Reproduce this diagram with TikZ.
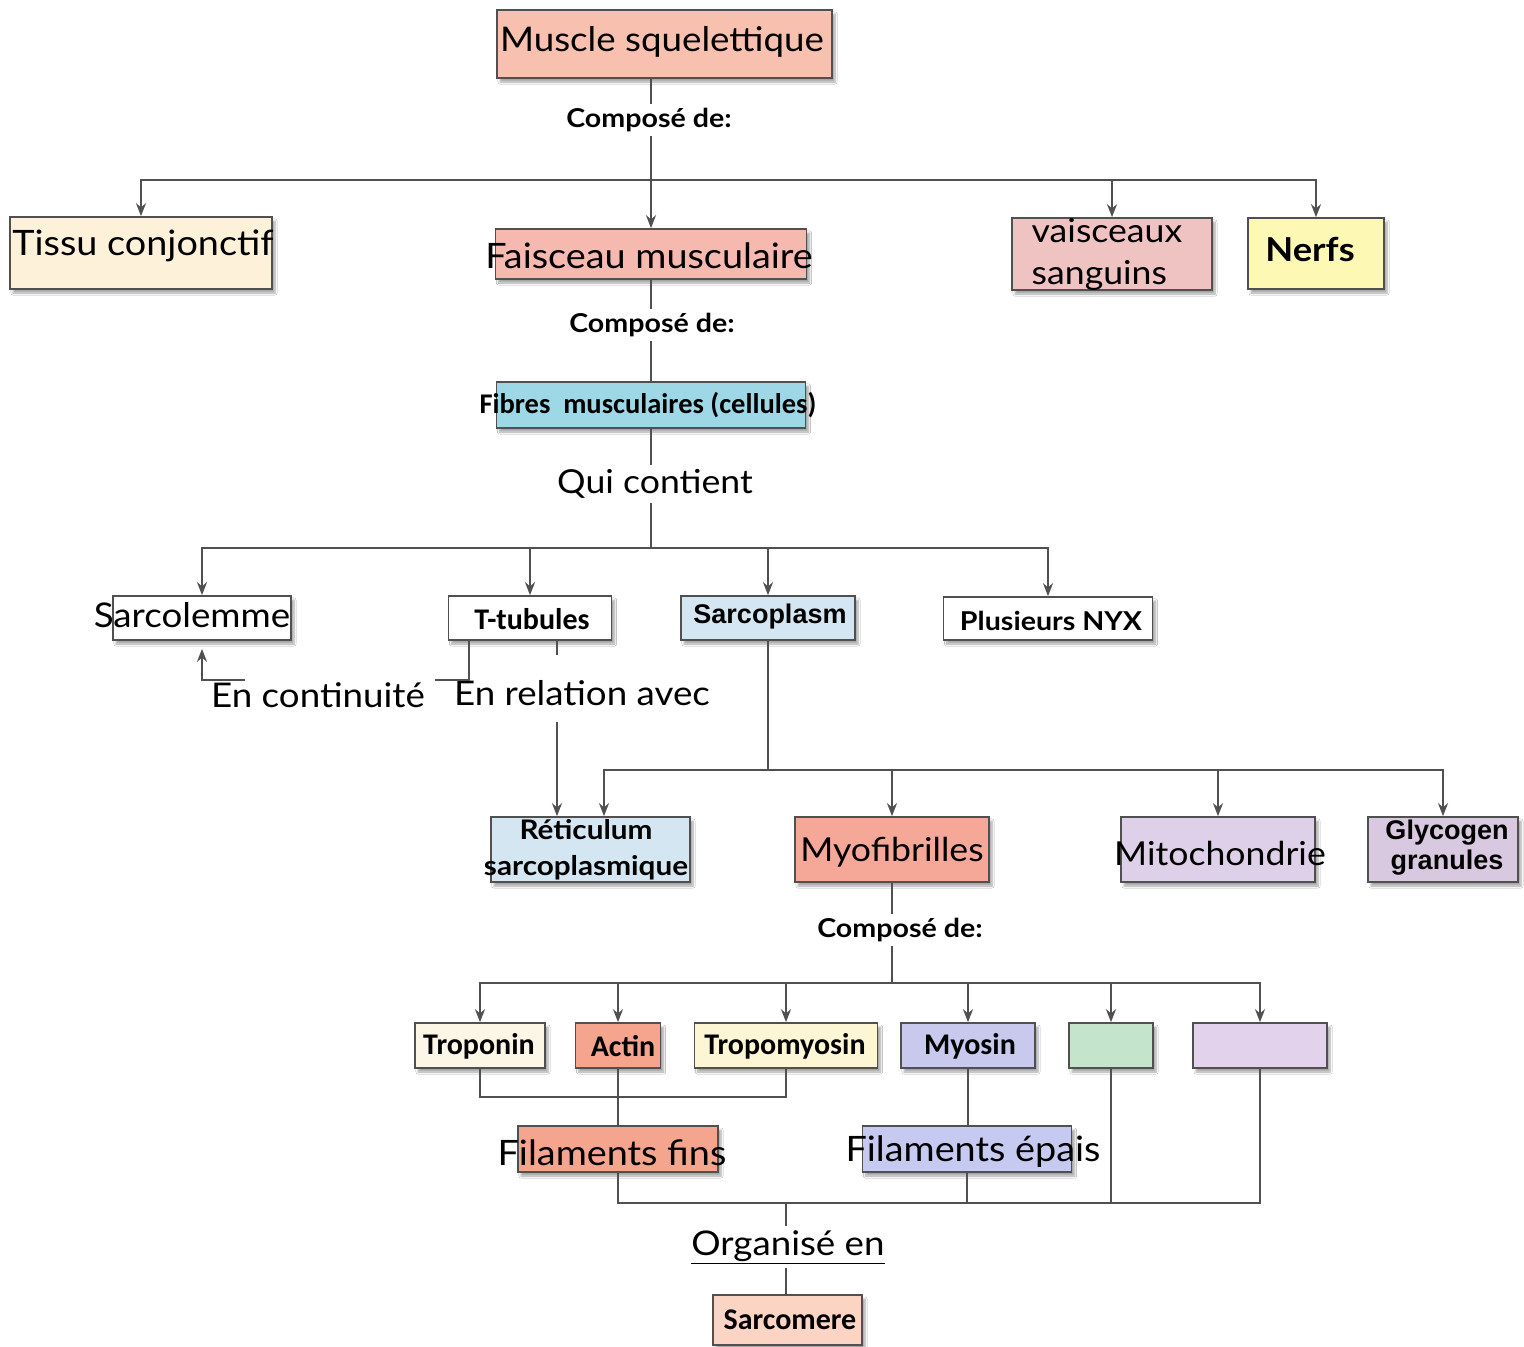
\documentclass[tikz,border=0pt]{standalone}
\usepackage{fontspec}
\setmainfont{Lato}
\newfontfamily\handf[FakeStretch=1.08]{Lato}
\newfontfamily\handbf[FakeStretch=1.1]{Lato}
\newfontfamily\condf{Carlito}
\newfontfamily\arialf{Liberation Sans}
\usetikzlibrary{arrows.meta,shadows.blur}
\definecolor{lineC}{HTML}{505050}
\definecolor{cMuscle}{HTML}{F8C0AF}
\definecolor{cFaisc}{HTML}{F5B9AF}
\definecolor{cTissu}{HTML}{FDF1DA}
\definecolor{cVaisc}{HTML}{F0C3C3}
\definecolor{cNerfs}{HTML}{FDF9B5}
\definecolor{cFibres}{HTML}{9ED8E6}
\definecolor{cSarcop}{HTML}{D4E6F2}
\definecolor{cMyof}{HTML}{F6A898}
\definecolor{cMito}{HTML}{DDD0E8}
\definecolor{cGlyc}{HTML}{D9C9E0}
\definecolor{cTropo}{HTML}{FCF6E6}
\definecolor{cActin}{HTML}{F5A48E}
\definecolor{cTmyo}{HTML}{FDF6D4}
\definecolor{cMyosin}{HTML}{C9C9EE}
\definecolor{cGreen}{HTML}{C4E5CB}
\definecolor{cLav}{HTML}{E2D2EC}
\definecolor{cEpais}{HTML}{C6CAF0}
\definecolor{cSarcom}{HTML}{FBD4C4}
\begin{document}
\begin{tikzpicture}[x=1pt,y=-1pt,
  box/.style={draw=lineC, line width=1.7pt, inner sep=0pt,
    blur shadow={shadow xshift=3pt, shadow yshift=-4pt, shadow blur steps=6, shadow opacity=35}},
  lbl/.style={inner sep=0pt, text=black},
  hand/.style={font=\fontsize{35}{40}\selectfont\handf},
  handb/.style={font=\fontsize{26}{30}\selectfont\handbf\bfseries},
  cond/.style={font=\fontsize{30}{34}\selectfont\condf\bfseries},
  link/.style={inner sep=4pt, text=black},
  con/.style={draw=lineC, line width=1.9pt},
  arr/.style={con, -{Stealth[length=13pt,width=10pt]}},
]
\useasboundingbox[fill=white] (0,0) rectangle (1524,1347);

% ---------- boxes ----------
\node[box, fill=cMuscle, minimum width=335, minimum height=68] (muscle) at (664.5,44) {};
\node[box, fill=cTissu, minimum width=262, minimum height=72] (tissu) at (141,253) {};
\node[box, fill=cFaisc, minimum width=311, minimum height=50] (faisc) at (651,254) {};
\node[box, fill=cVaisc, minimum width=200, minimum height=72] (vaisc) at (1112,254) {};
\node[box, fill=cNerfs, minimum width=136, minimum height=71] (nerfs) at (1316,253.5) {};
\node[box, fill=cFibres, minimum width=309, minimum height=46] (fibres) at (651,405) {};
\node[box, fill=white, minimum width=178, minimum height=44] (sarcol) at (202,618) {};
\node[box, fill=white, minimum width=163, minimum height=44] (ttub) at (530,618) {};
\node[box, fill=cSarcop, minimum width=174, minimum height=44] (sarcop) at (768,618) {};
\node[box, fill=white, minimum width=209, minimum height=43] (nyx) at (1048,618.5) {};
\node[box, fill=cSarcop, minimum width=199, minimum height=65] (reti) at (590.5,849.5) {};
\node[box, fill=cMyof, minimum width=194, minimum height=65] (myof) at (892,849.5) {};
\node[box, fill=cMito, minimum width=194, minimum height=65] (mito) at (1218,849.5) {};
\node[box, fill=cGlyc, minimum width=150, minimum height=65] (glyc) at (1443,849.5) {};
\node[box, fill=cTropo, minimum width=130, minimum height=45] (tropo) at (480,1045.5) {};
\node[box, fill=cActin, minimum width=85, minimum height=45] (actin) at (618,1045.5) {};
\node[box, fill=cTmyo, minimum width=183, minimum height=45] (tmyo) at (786,1045.5) {};
\node[box, fill=cMyosin, minimum width=134, minimum height=45] (myosin) at (968,1045.5) {};
\node[box, fill=cGreen, minimum width=84, minimum height=45] (green) at (1111,1045.5) {};
\node[box, fill=cLav, minimum width=134, minimum height=45] (lav) at (1260,1045.5) {};
\node[box, fill=cActin, minimum width=200, minimum height=46] (fins) at (618,1149) {};
\node[box, fill=cEpais, minimum width=209, minimum height=46] (epais) at (967,1149) {};
\node[box, fill=cSarcom, minimum width=149, minimum height=50] (sarcom) at (787.5,1320) {};

% ---------- box texts ----------
\node[lbl, font=\fontsize{34}{40}\selectfont\handf] (muscle-t) at (662,42) {Muscle squelettique};
\node[lbl, hand] (tissu-t) at (143,246) {Tissu conjonctif};
\node[lbl, hand] (faisc-t) at (649,256) {Faisceau musculaire};
\node[lbl, align=left, font=\fontsize{33}{42}\selectfont\handf] (vaisc-t) at (1107,254) {vaisceaux\\sanguins};
\node[lbl, font=\fontsize{33}{40}\selectfont\handbf\bfseries] (nerfs-t) at (1310,249) {Nerfs};
\node[lbl, font=\fontsize{28.5}{34}\selectfont\condf\bfseries] (fibres-t) at (648,405) {Fibres\ \ musculaires (cellules)};
\node[lbl, font=\fontsize{34}{40}\selectfont\handf] (sarcol-t) at (192,615) {Sarcolemme};
\node[lbl, cond] (ttub-t) at (532,619) {T-tubules};
\node[lbl, font=\fontsize{27}{30}\selectfont\arialf\bfseries] (sarcop-t) at (770,617) {Sarcoplasm};
\node[lbl, handb] (nyx-t) at (1051,621) {Plusieurs NYX};
\node[lbl, align=center, font=\fontsize{27}{36}\selectfont\handbf\bfseries] (reti-t) at (586,850) {Réticulum\\sarcoplasmique};
\node[lbl, font=\fontsize{33}{40}\selectfont\handf] (myof-t) at (892,852) {Myofibrilles};
\node[lbl, font=\fontsize{33}{40}\selectfont\handf] (mito-t) at (1220,853) {Mitochondrie};
\node[lbl, align=center, font=\fontsize{27}{30}\selectfont\arialf\bfseries] (glyc-t) at (1447,848) {Glycogen\\granules};
\node[lbl, cond] (tropo-t) at (479,1046) {Troponin};
\node[lbl, cond] (actin-t) at (623,1046) {Actin};
\node[lbl, cond] (tmyo-t) at (785,1046) {Tropomyosin};
\node[lbl, cond] (myosin-t) at (970,1046) {Myosin};
\node[lbl, hand] (fins-t) at (612,1153) {Filaments fins};
\node[lbl, hand] (epais-t) at (973,1152) {Filaments épais};
\node[lbl, cond] (sarcom-t) at (790,1320) {Sarcomere};

% ---------- link labels ----------
\node[link, handb] (comp1) at (649,120) {Composé de:};
\node[link, handb] (comp2) at (652,325) {Composé de:};
\node[link, font=\fontsize{33}{40}\selectfont\handf] (qui) at (655,484) {Qui contient};
\node[link, handb] (comp3) at (900,930) {Composé de:};
\node[link, font=\fontsize{34}{40}\selectfont\handf] (cont) at (318,695) {En continuité};
\node[link, font=\fontsize{34}{40}\selectfont\handf] (rel) at (582,693) {En relation avec};
\node[link, font=\fontsize{34}{40}\selectfont\handf] (orga) at (788,1247) {\underline{Organisé en}};

% ---------- junctions ----------
\coordinate (j1) at (651,180);
\coordinate (j2) at (651,548);
\coordinate (j3) at (768,770);
\coordinate (j4) at (892,983);
\coordinate (j5) at (786,1203);
\coordinate (c1) at (435,680);
\coordinate (c2) at (245,680);
\coordinate (r1) at (557,655);
\coordinate (r2) at (557,722);

% ---------- connectors ----------
\draw[con] (muscle.south -| j1) -- (comp1.north -| j1);
\draw[con] (comp1.south -| j1) -- (j1);
\draw[arr] (j1) -- (faisc.north);
\draw[arr] (j1) -| (tissu.north);
\draw[arr] (j1) -| (nerfs.north);
\draw[arr] (vaisc.north |- j1) -- (vaisc.north);

\draw[con] (faisc.south) -- (comp2.north -| faisc.south);
\draw[con] (comp2.south -| faisc.south) -- (fibres.north);
\draw[con] (fibres.south) -- (qui.north -| fibres.south);
\draw[con] (qui.south -| fibres.south) -- (j2);
\draw[arr] (j2) -| (sarcol.north);
\draw[arr] (j2) -| (nyx.north);
\draw[arr] (ttub.north |- j2) -- (ttub.north);
\draw[arr] (sarcop.north |- j2) -- (sarcop.north);

\draw[con] ([xshift=-61pt]ttub.south) |- (c1);
\draw[arr] (c2) -| ([yshift=-8pt]sarcol.south);
\draw[con] ([xshift=27pt]ttub.south) -- (r1);
\draw[arr] (r2) -- ([xshift=-33.5pt]reti.north);

\draw[con] (sarcop.south) -- (j3);
\draw[arr] (j3) -| ([xshift=13.5pt]reti.north);
\draw[arr] (j3) -| (glyc.north);
\draw[arr] (myof.north |- j3) -- (myof.north);
\draw[arr] (mito.north |- j3) -- (mito.north);

\draw[con] (myof.south) -- (comp3.north -| myof.south);
\draw[con] (comp3.south -| myof.south) -- (j4);
\draw[arr] (j4) -| (tropo.north);
\draw[arr] (j4) -| (lav.north);
\draw[arr] (actin.north |- j4) -- (actin.north);
\draw[arr] (tmyo.north |- j4) -- (tmyo.north);
\draw[arr] (myosin.north |- j4) -- (myosin.north);
\draw[arr] (green.north |- j4) -- (green.north);

\draw[con] (tropo.south) -- ++(0,28) -| (tmyo.south);
\draw[con] (actin.south) -- (fins.north);
\draw[con] (myosin.south) -- (myosin.south |- epais.north);

\draw[con] (fins.south) |- (j5) -| (lav.south);
\draw[con] (epais.south) -- (epais.south |- j5);
\draw[con] (green.south) -- (green.south |- j5);
\draw[con] (j5) -- (orga.north -| j5);
\draw[con] (orga.south -| j5) -- (sarcom.north -| j5);
\end{tikzpicture}
\end{document}
